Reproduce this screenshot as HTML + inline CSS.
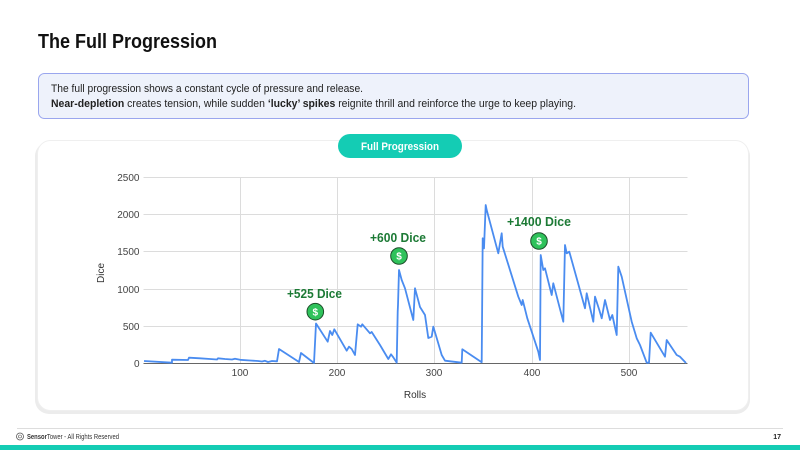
<!DOCTYPE html>
<html>
<head>
<meta charset="utf-8">
<style>
html,body{margin:0;padding:0;background:#fff;}
body{width:800px;height:450px;overflow:hidden;}
svg{display:block;}
text{font-family:"Liberation Sans",Arial,sans-serif;}
</style>
</head>
<body>
<svg width="800" height="450" viewBox="0 0 800 450" xmlns="http://www.w3.org/2000/svg">
  <rect x="0" y="0" width="800" height="450" fill="#ffffff"/>
  <!-- Title -->
  <text x="38" y="48" font-size="20" font-weight="bold" fill="#111" textLength="179" lengthAdjust="spacingAndGlyphs">The Full Progression</text>

  <!-- Info box -->
  <rect x="38.5" y="73.5" width="710" height="45" rx="6" ry="6" fill="#eef2fb" stroke="#9aa6ee" stroke-width="1"/>
  <text x="51" y="92" font-size="11" fill="#222" textLength="312" lengthAdjust="spacingAndGlyphs">The full progression shows a constant cycle of pressure and release.</text>
  <text x="51" y="107" font-size="11" fill="#222" textLength="525" lengthAdjust="spacingAndGlyphs"><tspan font-weight="bold">Near-depletion</tspan> creates tension, while sudden <tspan font-weight="bold">‘lucky’ spikes</tspan> reignite thrill and reinforce the urge to keep playing.</text>

  <!-- Card -->
  <rect x="35" y="142" width="715" height="272" rx="14" ry="14" fill="#ececec"/>
  <rect x="37.5" y="140.5" width="711" height="270" rx="13" ry="13" fill="#ffffff" stroke="#efefef" stroke-width="1"/>

  <!-- Pill -->
  <rect x="338" y="134" width="124" height="24" rx="12" ry="12" fill="#14ccb4"/>
  <text x="400" y="150" font-size="11" font-weight="bold" fill="#ffffff" text-anchor="middle" textLength="78" lengthAdjust="spacingAndGlyphs">Full Progression</text>

  <!-- Grid -->
  <g stroke="#dcdcdc" stroke-width="1">
    <line x1="143.5" y1="177.5" x2="687.5" y2="177.5"/>
    <line x1="143.5" y1="214.5" x2="687.5" y2="214.5"/>
    <line x1="143.5" y1="251.5" x2="687.5" y2="251.5"/>
    <line x1="143.5" y1="289.5" x2="687.5" y2="289.5"/>
    <line x1="143.5" y1="326.5" x2="687.5" y2="326.5"/>
    <line x1="240.5" y1="177" x2="240.5" y2="363"/>
    <line x1="337.5" y1="177" x2="337.5" y2="363"/>
    <line x1="434.5" y1="177" x2="434.5" y2="363"/>
    <line x1="532.5" y1="177" x2="532.5" y2="363"/>
    <line x1="629.5" y1="177" x2="629.5" y2="363"/>
  </g>
  <line x1="143.5" y1="363.5" x2="687.5" y2="363.5" stroke="#666" stroke-width="1"/>

  <!-- Y tick labels -->
  <g font-size="10" fill="#444" text-anchor="end">
    <text x="139.5" y="181">2500</text>
    <text x="139.5" y="218">2000</text>
    <text x="139.5" y="255">1500</text>
    <text x="139.5" y="293">1000</text>
    <text x="139.5" y="330">500</text>
    <text x="139.5" y="367">0</text>
  </g>
  <!-- X tick labels -->
  <g font-size="10" fill="#444" text-anchor="middle">
    <text x="240" y="376">100</text>
    <text x="337" y="376">200</text>
    <text x="434" y="376">300</text>
    <text x="532" y="376">400</text>
    <text x="629" y="376">500</text>
  </g>
  <text x="415" y="398" font-size="10" fill="#333" text-anchor="middle">Rolls</text>
  <text x="0" y="0" font-size="10" fill="#333" text-anchor="middle" transform="translate(104,273) rotate(-90)">Dice</text>

  <!-- Series -->
  <polyline fill="none" stroke="#4a8cf0" stroke-width="1.8" stroke-linejoin="round" points="
144,361 172,362.7 172,359.7 188,360 189,357.7 200,358.3 210,359 217,359.5 218,358.3 225,359 232,359.5 235,358.7 240,359.8 250,360.5 258,361 262,361.5 265,360.8 268,362 272,361 277,361.3 279,349 299,362 301,353 314,363 316,323.5 327.7,341.7 330,331 332.3,335 334.3,329.3 346.7,350.7 349,346.7 351.7,349 355,355 357.7,324.3 361,326.7 362.3,324.3 370,333.3 371.7,332 380,345 388.3,359 391,354.3 393.3,357.3 396.7,362.7 397.7,311.7 398,305 399,270 401.7,280 405,288.3 413.3,320 415,288.3 420,307 425,315 428.3,338 431.7,336.7 433.3,326.7 436.7,338 441.7,355 445,360.7 461.7,362.7 462.3,349.3 481.7,362.3 482.7,238.3 484,248.3 485.7,205 486.7,210 498.3,253.3 501.7,233.3 502.7,246.7 518.3,296.7 521.7,305 522.7,300 527.3,318.3 538.3,351.7 540,360 540.7,255 543.3,270 545,268.3 551.7,295 553.3,283.3 563.3,321.7 565,245 566.7,253.3 569.3,251.7 576.7,278.3 585,308.3 586.7,293.3 593.3,321.7 595,296.7 599.3,310 601.7,318.3 605,300 610,320 612.3,315 616.7,335 618.3,266.7 621.7,276.7 631.7,321.7 636.7,338.3 640,345 646.7,362.7 649,362.7 650.7,332.7 665,356.7 666.7,340 670,345 676.7,355 680,356.7 686,363"/>

  <!-- Annotations -->
  <g font-size="12.5" font-weight="bold" fill="#1c7a35" text-anchor="middle">
    <text x="314.5" y="298" textLength="55" lengthAdjust="spacingAndGlyphs">+525 Dice</text>
    <text x="398" y="242" textLength="56" lengthAdjust="spacingAndGlyphs">+600 Dice</text>
    <text x="539" y="226" textLength="64" lengthAdjust="spacingAndGlyphs">+1400 Dice</text>
  </g>
  <g>
    <circle cx="315.3" cy="311.7" r="8.3" fill="#2fc25b" stroke="#1d4d2a" stroke-width="1"/>
    <circle cx="399" cy="256" r="8.3" fill="#2fc25b" stroke="#1d4d2a" stroke-width="1"/>
    <circle cx="539" cy="241" r="8.3" fill="#2fc25b" stroke="#1d4d2a" stroke-width="1"/>
  </g>
  <g font-size="10" font-weight="bold" fill="#ffffff" text-anchor="middle">
    <text x="315.3" y="315.3">$</text>
    <text x="399" y="259.6">$</text>
    <text x="539" y="244.6">$</text>
  </g>

  <!-- Footer -->
  <line x1="17" y1="428.5" x2="783" y2="428.5" stroke="#dddddd" stroke-width="1"/>
  <circle cx="20" cy="436.5" r="3.5" fill="none" stroke="#555" stroke-width="0.8"/>
  <circle cx="20" cy="436.5" r="1.5" fill="none" stroke="#555" stroke-width="0.6"/>
  <text x="27" y="439" font-size="7" fill="#333" textLength="92" lengthAdjust="spacingAndGlyphs"><tspan font-weight="bold">Sensor</tspan>Tower - All Rights Reserved</text>
  <text x="781" y="439" font-size="7" font-weight="bold" fill="#222" text-anchor="end">17</text>
  <rect x="0" y="445" width="800" height="5" fill="#14ccb4"/>
</svg>
</body>
</html>
